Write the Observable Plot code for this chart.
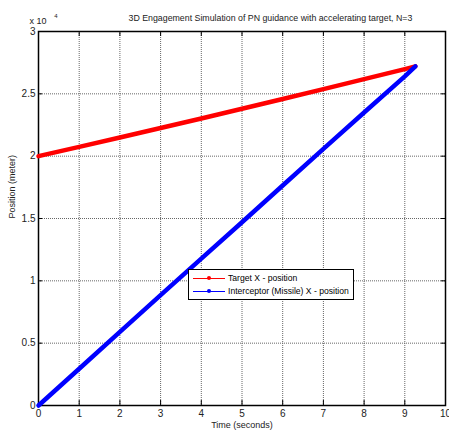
<!DOCTYPE html>
<html><head><meta charset="utf-8">
<script src="https://cdn.jsdelivr.net/npm/d3@7"></script>
<script src="https://cdn.jsdelivr.net/npm/@observablehq/plot@0.6"></script>
<style>
body{margin:0;background:#fff;font-family:"Liberation Sans",Arial,sans-serif;}
#wrap{position:relative;width:449px;height:434px;}
#legend{position:absolute;left:188px;top:269px;width:166px;height:31px;border:1px solid #000;background:#fff;font-size:8.6px;color:#000;box-sizing:border-box;}
.row{position:absolute;left:0;height:12px;display:flex;align-items:center;white-space:nowrap;}
.sw{position:relative;width:32px;height:12px;margin-left:4px;margin-right:3px;}
.sw .ln{position:absolute;left:0;top:5.5px;width:32px;height:1px;}
.sw .dt{position:absolute;left:14px;top:4px;width:4px;height:4px;border-radius:2px;}
</style></head>
<body><div id="wrap"><div id="legend">
<div class="row" style="top:2px"><div class="sw"><div class="ln" style="background:#f00"></div><div class="dt" style="background:#f00"></div></div>Target X - position</div>
<div class="row" style="top:15px"><div class="sw"><div class="ln" style="background:#00f"></div><div class="dt" style="background:#00f"></div></div>Interceptor (Missile) X - position</div>
</div></div>
<script>
const time = [0, 1, 2, 3, 4, 5, 6, 7, 8, 9, 9.26];
const targetX = [20000, 20745, 21495, 22255, 23025, 23800, 24585, 25375, 26175, 26985, 27200];
const missileX = [0, 2950, 5900, 8850, 11780, 14700, 17650, 20580, 23500, 26400, 27200];
const xTicks = [0,1,2,3,4,5,6,7,8,9,10];
const yTicks = [0,5000,10000,15000,20000,25000,30000];

const target = time.map((t,i)=>({t, v: targetX[i]}));
const missile = time.map((t,i)=>({t, v: missileX[i]}));

const chart = Plot.plot({
  width: 449, height: 434,
  marginLeft: 38, marginRight: 4, marginTop: 31, marginBottom: 29,
  style: {fontFamily: '"Liberation Sans", Arial, sans-serif', fontSize: "10px", color: "#000", background: "#fff"},
  x: {domain: [0, 10], ticks: xTicks},
  y: {domain: [0, 30000], ticks: yTicks},
  marks: [
    Plot.gridX(xTicks, {stroke: "#666", strokeOpacity: 1, strokeWidth: 1, strokeDasharray: "1,1"}),
    Plot.gridY(yTicks, {stroke: "#666", strokeOpacity: 1, strokeWidth: 1, strokeDasharray: "1,1"}),
    Plot.axisX(xTicks, {anchor: "bottom", tickSize: 0, tickPadding: 4, tickFormat: d => String(d), label: null, fill: "#222"}),
    Plot.axisY(yTicks, {anchor: "left", tickSize: 0, tickPadding: 3, tickFormat: d => String(d/1e4), label: null, fill: "#222"}),
    Plot.ruleX(xTicks, {x: d => d, y1: 0, y2: 400, stroke: "#000", strokeWidth: 1}),
    Plot.ruleX(xTicks, {x: d => d, y1: 29600, y2: 30000, stroke: "#000", strokeWidth: 1}),
    Plot.ruleY(yTicks, {y: d => d, x1: 0, x2: 0.1, stroke: "#000", strokeWidth: 1}),
    Plot.ruleY(yTicks, {y: d => d, x1: 9.9, x2: 10, stroke: "#000", strokeWidth: 1}),
    Plot.frame({stroke: "#000", strokeWidth: 1.5}),
    Plot.line(target, {x: "t", y: "v", stroke: "#f00", strokeWidth: 4.5}),
    Plot.line(missile, {x: "t", y: "v", stroke: "#00f", strokeWidth: 4.5}),
    Plot.text(["3D Engagement Simulation of PN guidance with accelerating target, N=3"], {frameAnchor: "top-left", dx: 90, dy: -17, textAnchor: "start", fontSize: 8.8, fill: "#222"}),
    Plot.text(["Time (seconds)"], {frameAnchor: "bottom", dy: 22, fontSize: 9, fill: "#222"}),
    Plot.text(["Position (meter)"], {frameAnchor: "left", dx: -26, rotate: -90, fontSize: 9, fill: "#222"})
  ]
});
const svg = d3.select(chart);
svg.append("text").attr("x", 38).attr("y", 24).attr("font-size", 9).attr("fill", "#222").text("x 10");
svg.append("text").attr("x", 56).attr("y", 18).attr("font-size", 6).attr("fill", "#222").text("4");
document.getElementById("wrap").prepend(chart);
chart.style.position = "absolute"; chart.style.left = "0"; chart.style.top = "0";
</script></body></html>
